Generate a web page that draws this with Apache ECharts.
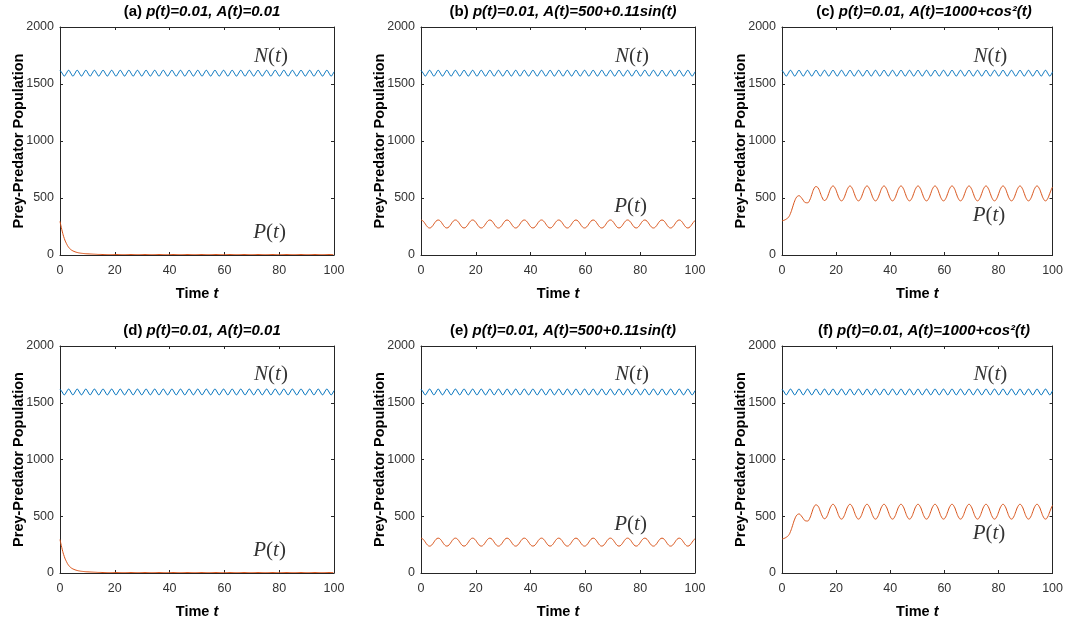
<!DOCTYPE html>
<html>
<head>
<meta charset="utf-8">
<script src="https://cdn.jsdelivr.net/npm/echarts@6/dist/echarts.min.js"></script>
<style>
html,body{margin:0;padding:0;background:#fff;}
#chart{width:1066px;height:620px;}
</style>
</head>
<body>
<div id="chart"></div>
<script>
// time samples (step ~ pi/4)
const tt = [0,0.79,1.57,2.36,3.14,3.93,4.71,5.50,6.28,7.07,7.85,8.64,9.42,10.21,11.00,11.78,
12.57,13.35,14.14,14.92,15.71,16.49,17.28,18.06,18.85,19.63,20.42,21.21,21.99,22.78,23.56,24.35,
25.13,25.92,26.70,27.49,28.27,29.06,29.85,30.63,31.42,32.20,32.99,33.77,34.56,35.34,36.13,36.91,
37.70,38.48,39.27,40.06,40.84,41.63,42.41,43.20,43.98,44.77,45.55,46.34,47.12,47.91,48.69,49.48,
50.27,51.05,51.84,52.62,53.41,54.19,54.98,55.76,56.55,57.33,58.12,58.90,59.69,60.48,61.26,62.05,
62.83,63.62,64.40,65.19,65.97,66.76,67.54,68.33,69.12,69.90,70.69,71.47,72.26,73.04,73.83,74.61,
75.40,76.18,76.97,77.75,78.54,79.33,80.11,80.90,81.68,82.47,83.25,84.04,84.82,85.61,86.39,87.18,
87.96,88.75,89.54,90.32,91.11,91.89,92.68,93.46,94.25,95.03,95.82,96.60,97.39,98.17,98.96,99.75,100];

// prey N(t) (same in all panels)
const N = [1620,1595,1570,1595,1620,1595,1570,1595,1620,1595,1570,1595,1620,1595,1570,1595,
1620,1595,1570,1595,1620,1595,1570,1595,1620,1595,1570,1595,1620,1595,1570,1595,
1620,1595,1570,1595,1620,1595,1570,1595,1620,1595,1570,1595,1620,1595,1570,1595,
1620,1595,1570,1595,1620,1595,1570,1595,1620,1595,1570,1595,1620,1595,1570,1595,
1620,1595,1570,1595,1620,1595,1570,1595,1620,1595,1570,1595,1620,1595,1570,1595,
1620,1595,1570,1595,1620,1595,1570,1595,1620,1595,1570,1595,1620,1595,1570,1595,
1620,1595,1570,1595,1620,1595,1570,1595,1620,1595,1570,1595,1620,1595,1570,1595,
1620,1595,1570,1595,1620,1595,1570,1595,1620,1595,1570,1595,1620,1595,1570,1595,1607];

// predator P(t), case A(t)=0.01
const Pa = [295,210,145,100,68,48,36,28,22,18,15,13,11,10,9,8,7,6,5,5,
4,4,4,4,4,4,4,4,4,4,4,4,
4,4,4,4,4,4,4,4,4,4,4,4,
4,4,4,4,4,4,4,4,4,4,4,4,
4,4,4,4,4,4,4,4,4,4,4,4,
4,4,4,4,4,4,4,4,4,4,4,4,
4,4,4,4,4,4,4,4,4,4,4,4,
4,4,4,4,4,4,4,4,4,4,4,4,
4,4,4,4,4,4,4,4,4,4,4,4,
4,4,4,4,4,4,4,4,4,4,4,4,4];

// predator P(t), case A(t)=500+0.11sin(t)
const Pb = [307,297,272,247,237,247,272,297,307,297,272,247,237,247,272,297,
307,297,272,247,237,247,272,297,307,297,272,247,237,247,272,297,
307,297,272,247,237,247,272,297,307,297,272,247,237,247,272,297,
307,297,272,247,237,247,272,297,307,297,272,247,237,247,272,297,
307,297,272,247,237,247,272,297,307,297,272,247,237,247,272,297,
307,297,272,247,237,247,272,297,307,297,272,247,237,247,272,297,
307,297,272,247,237,247,272,297,307,297,272,247,237,247,272,297,
307,297,272,247,237,247,272,297,307,297,272,247,237,247,272,297,302];

// predator P(t), case A(t)=1000+cos^2(t)
const Pc = [300,305,315,330,365,420,475,510,520,505,480,460,458,480,530,580,600,588,545,500,478,
494,540,586,
605,586,540,494,475,494,540,586,605,586,540,494,475,494,540,586,
605,586,540,494,475,494,540,586,605,586,540,494,475,494,540,586,
605,586,540,494,475,494,540,586,605,586,540,494,475,494,540,586,
605,586,540,494,475,494,540,586,605,586,540,494,475,494,540,586,
605,586,540,494,475,494,540,586,605,586,540,494,475,494,540,586,
605,586,540,494,475,494,540,586,605,586,540,494,475,494,540,586,
605,586,540,494,475,494,540,586,596];

const xTicks = [0,20,40,60,80,100];
const yTicks = [0,500,1000,1500,2000];
const panelLetters = ['(a)','(b)','(c)','(d)','(e)','(f)'];
const panelFormulas = ['p(t)=0.01, A(t)=0.01','p(t)=0.01, A(t)=500+0.11sin(t)','p(t)=0.01, A(t)=1000+cos\u00B2(t)',
                       'p(t)=0.01, A(t)=0.01','p(t)=0.01, A(t)=500+0.11sin(t)','p(t)=0.01, A(t)=1000+cos\u00B2(t)'];
const predatorSeries = [Pa, Pb, Pc, Pa, Pb, Pc];
// annotation anchor points [t, value] for labels N(t) and P(t)
const labelN = [[77,1745],[77,1745],[77,1745],[77,1745],[77,1745],[77,1745]];
const labelP = [[76.5,195],[76.5,425],[76.5,345],[76.5,195],[76.5,425],[76.5,345]];

const lefts = [60, 421, 782];
const tops = [27, 346];
const W = 274, H = 228;
const axisCol = '#262626';
const blue = '#0072BD', red = '#D95319';
const sans = '"Liberation Sans", Arial, Helvetica, sans-serif';
const serif = '"Liberation Serif", "DejaVu Serif", serif';

const grid = [], xAxis = [], yAxis = [], series = [], title = [];
for (let i = 0; i < 6; i++) {
  const col = i % 3, row = Math.floor(i / 3);
  grid.push({left: lefts[col], top: tops[row], width: W, height: H});
  title.push({
    text: '{b|' + panelLetters[i] + ' }{bi|' + panelFormulas[i] + '}',
    left: lefts[col] + W / 2, top: tops[row] - 28, textAlign: 'center',
    textStyle: {rich: {
      b: {fontFamily: sans, fontWeight: 'bold', fontSize: 15, color: '#000'},
      bi: {fontFamily: sans, fontWeight: 'bold', fontStyle: 'italic', fontSize: 15, color: '#000'}
    }}
  });
  const common = {
    axisLine: {show: true, onZero: false, lineStyle: {color: axisCol, width: 1}},
    axisTick: {show: true, inside: true, length: 3, lineStyle: {color: axisCol}},
    splitLine: {show: false}
  };
  xAxis.push(Object.assign({
    type: 'value', gridIndex: i, min: xTicks[0], max: xTicks[xTicks.length - 1], interval: 20, position: 'bottom',
    axisLabel: {color: '#333', fontSize: 12.5, fontFamily: sans, margin: 9, formatter: v => String(v)},
    name: '{b|Time }{bi|t}', nameLocation: 'middle', nameGap: 31,
    nameTextStyle: {rich: {
      b: {fontFamily: sans, fontWeight: 'bold', fontSize: 14.5, color: '#000'},
      bi: {fontFamily: sans, fontWeight: 'bold', fontStyle: 'italic', fontSize: 14.5, color: '#000'}
    }}
  }, common));
  xAxis.push(Object.assign({
    type: 'value', gridIndex: i, min: xTicks[0], max: xTicks[xTicks.length - 1], interval: 20, position: 'top',
    axisLabel: {show: false}
  }, common));
  yAxis.push(Object.assign({
    type: 'value', gridIndex: i, min: yTicks[0], max: yTicks[yTicks.length - 1], interval: 500, position: 'left',
    axisLabel: {color: '#333', fontSize: 12.5, fontFamily: sans, margin: 6, formatter: v => String(v)},
    name: 'Prey-Predator Population', nameLocation: 'middle', nameGap: 34, nameMoveOverlap: false,
    nameTextStyle: {fontFamily: sans, fontWeight: 'bold', fontSize: 14.5, color: '#000'}
  }, common));
  yAxis.push(Object.assign({
    type: 'value', gridIndex: i, min: yTicks[0], max: yTicks[yTicks.length - 1], interval: 500, position: 'right',
    axisLabel: {show: false}
  }, common));
  series.push({
    type: 'line', xAxisIndex: 2 * i, yAxisIndex: 2 * i, showSymbol: false, smooth: true,
    lineStyle: {color: blue, width: 1}, itemStyle: {color: blue},
    data: tt.map((t, k) => [t, N[k]])
  });
  const P = predatorSeries[i];
  series.push({
    type: 'line', xAxisIndex: 2 * i, yAxisIndex: 2 * i, showSymbol: false, smooth: true,
    lineStyle: {color: red, width: 1}, itemStyle: {color: red},
    data: tt.map((t, k) => [t, P[k]])
  });
  const rich = {
    it: {fontFamily: serif, fontStyle: 'italic', fontSize: 21, color: '#000'},
    rm: {fontFamily: serif, fontSize: 21, color: '#000'}
  };
  series.push({
    type: 'scatter', xAxisIndex: 2 * i, yAxisIndex: 2 * i, symbolSize: 0, silent: true,
    data: [
      {value: labelN[i], label: {show: true, position: 'inside', formatter: '{it|N}{rm|(}{it|t}{rm|)}', rich: rich}},
      {value: labelP[i], label: {show: true, position: 'inside', formatter: '{it|P}{rm|(}{it|t}{rm|)}', rich: rich}}
    ]
  });
}

const chart = echarts.init(document.getElementById('chart'), null, {renderer: 'canvas'});
chart.setOption({animation: false, backgroundColor: '#fff', title, grid, xAxis, yAxis, series});
</script>
</body>
</html>
